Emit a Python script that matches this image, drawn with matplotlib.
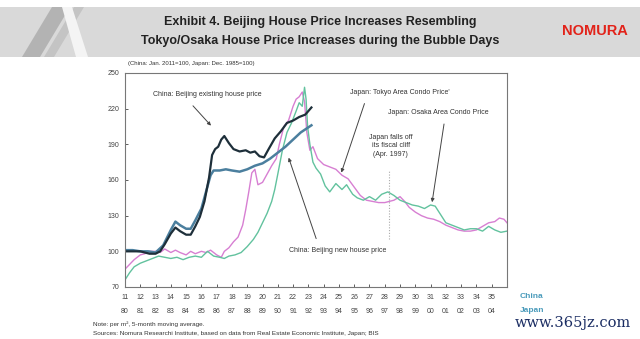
import matplotlib.pyplot as plt
from matplotlib.patches import Rectangle, Polygon

plt.rcParams['font.family'] = ['Liberation Sans', 'DejaVu Sans']

# x axis: China year 2011=11 ... , Japan year 1980 at the same position
china_years = list(range(11, 36))
japan_years = ["80", "81", "82", "83", "84", "85", "86", "87", "88", "89", "90", "91",
               "92", "93", "94", "95", "96", "97", "98", "99", "00", "01", "02", "03", "04"]
y_ticks = [70, 100, 130, 160, 190, 220, 250]

# China: Beijing existing house price
exist_x = [11.0, 11.5, 12.0, 12.3, 12.6, 13.0, 13.3, 13.6, 14.0, 14.3, 14.6, 15.0, 15.3,
           15.6, 15.9, 16.2, 16.5, 16.7, 16.9, 17.1, 17.3, 17.5, 17.8, 18.1, 18.5, 18.9,
           19.2, 19.5, 19.8, 20.1, 20.4, 20.8, 21.2, 21.6, 22.0, 22.4, 22.8, 23.2]
exist_y = [100, 100, 100, 99, 98, 98, 100, 106, 115, 120, 117, 114, 114,
           121, 129, 142, 162, 181, 186, 188, 194, 197, 191, 186, 184, 185,
           183, 184, 180, 179, 186, 195, 201, 208, 210, 213, 215, 221]

# China: Beijing new house price
new_x = [11.0, 11.5, 12.0, 12.5, 13.0, 13.5, 14.0, 14.3, 14.6, 15.0, 15.3, 15.6, 16.0,
         16.3, 16.6, 16.8, 17.2, 17.6, 18.0, 18.5, 19.0, 19.5, 20.0, 20.5, 21.0, 21.5,
         22.0, 22.5, 23.2]
new_y = [101, 101, 100, 100, 99, 105, 118, 125, 122, 119, 119, 126, 136,
         150, 164, 168, 168, 169, 168, 167, 169, 172, 174, 178, 183, 188,
         194, 200, 206]

# Japan: Tokyo area condo price
tokyo_x = [11.0, 11.3, 11.6, 12.0, 12.3, 12.6, 13.0, 13.3, 13.6, 14.0, 14.3, 14.6, 15.0,
           15.3, 15.6, 16.0, 16.3, 16.6, 17.0, 17.3, 17.5, 17.8, 18.1, 18.4, 18.7, 18.9,
           19.1, 19.3, 19.5, 19.7, 20.0, 20.3, 20.6, 20.9, 21.1, 21.4, 21.7, 22.0, 22.2,
           22.4, 22.6, 22.75, 22.9, 23.1, 23.3, 23.6, 24.0, 24.4, 24.8, 25.2, 25.6, 26.0,
           26.4, 26.8, 27.2, 27.6, 28.0, 28.3, 28.6, 29.0, 29.3, 29.6, 30.0, 30.4, 30.8,
           31.2, 31.6, 32.0, 32.4, 32.8, 33.2, 33.6, 34.0, 34.4, 34.8, 35.2, 35.5, 35.8, 36.0]
tokyo_y = [85, 89, 93, 97, 98, 100, 100, 99, 102, 99, 101, 99, 97,
           100, 98, 100, 99, 101, 97, 95, 100, 103, 108, 112, 122, 135,
           150, 166, 169, 156, 158, 165, 172, 178, 190, 205, 210, 222, 228,
           230, 234, 226, 200, 185, 188, 178, 173, 171, 169, 164, 161, 154,
           147, 143, 142, 141, 141, 142, 143, 146, 142, 137, 133, 130, 128,
           127, 125, 122, 120, 118, 117, 117, 118, 121, 124, 125, 128, 127, 124]

# Japan: Osaka area condo price
osaka_x = [11.0, 11.3, 11.6, 12.0, 12.4, 12.8, 13.2, 13.6, 14.0, 14.4, 14.8, 15.2, 15.6,
           16.0, 16.4, 16.8, 17.2, 17.5, 17.8, 18.2, 18.6, 19.0, 19.4, 19.7, 20.0, 20.3,
           20.6, 20.8, 21.0, 21.3, 21.6, 21.9, 22.2, 22.4, 22.6, 22.75, 22.85, 22.95, 23.1,
           23.3, 23.5, 23.8, 24.1, 24.4, 24.8, 25.2, 25.5, 25.9, 26.2, 26.6, 27.0, 27.4,
           27.8, 28.2, 28.6, 29.0, 29.4, 29.8, 30.2, 30.6, 31.0, 31.3, 31.6, 32.0, 32.4,
           32.8, 33.2, 33.6, 34.0, 34.4, 34.8, 35.2, 35.6, 36.0]
osaka_y = [76, 82, 87, 90, 92, 94, 96, 95, 94, 95, 93, 95, 96,
           95, 100, 96, 95, 94, 96, 97, 99, 104, 110, 116, 124, 132,
           142, 152, 165, 185, 200, 208, 218, 225, 222, 238, 228, 205, 190,
           175, 170, 165, 155, 150, 157, 152, 156, 148, 145, 143, 146, 143,
           148, 150, 147, 143, 141, 139, 138, 136, 139, 138, 132, 124, 122,
           120, 118, 119, 119, 117, 121, 118, 116, 117]

fig = plt.figure(figsize=(6.4, 3.39), dpi=100)

# header band with the grey stripes on the left
fig.patches.append(Rectangle((0, 1 - 57 / 339), 1, 50 / 339, transform=fig.transFigure,
                             facecolor='#d9d9d9', edgecolor='none', zorder=0))
def fpx(x, y):
    return (x / 640, 1 - y / 339)
fig.patches.append(Polygon([fpx(22, 57), fpx(40, 57), fpx(70, 7), fpx(52, 7)],
                           transform=fig.transFigure, facecolor='#b3b3b3', edgecolor='none'))
fig.patches.append(Polygon([fpx(44, 57), fpx(54, 57), fpx(84, 7), fpx(74, 7)],
                           transform=fig.transFigure, facecolor='#c4c4c4', edgecolor='none'))
fig.patches.append(Polygon([fpx(62, 7), fpx(72, 7), fpx(88, 57), fpx(76, 57)],
                           transform=fig.transFigure, facecolor='#f4f4f4', edgecolor='none'))
fig.text(320 / 640, 1 - 22 / 339, "Exhibit 4. Beijing House Price Increases Resembling",
         ha='center', va='center', fontsize=9, fontweight='bold', color='#222222')
fig.text(320 / 640, 1 - 41 / 339, "Tokyo/Osaka House Price Increases during the Bubble Days",
         ha='center', va='center', fontsize=9, fontweight='bold', color='#222222')
fig.text(595 / 640, 1 - 31 / 339, "NOMURA", ha='center', va='center', fontsize=10.5,
         fontweight='bold', color='#e2231a')

ax = fig.add_axes([125 / 640, 1 - 287 / 339, 382 / 640, 214 / 339])
ax.plot(tokyo_x, tokyo_y, color='#d77fd2', lw=1.0)
ax.plot(osaka_x, osaka_y, color='#62c29e', lw=1.0)
ax.plot(new_x, new_y, color='#4b7f9e', lw=1.8)
ax.plot(exist_x, exist_y, color='#1e2f3a', lw=1.6)

ax.set_xlim(11, 36)
ax.set_ylim(70, 250)
ax.set_yticks(y_ticks)
ax.set_xticks(china_years)
ax.set_xticklabels([str(v) for v in china_years])
ax.tick_params(direction='in', length=2.5, width=0.6, labelsize=5, colors='#444444', pad=4)
ax.tick_params(axis='x', pad=5)
for s in ax.spines.values():
    s.set_color('#777777')
    s.set_linewidth(0.8)
trans = ax.get_xaxis_transform()
for xv, lab in zip(china_years, japan_years):
    ax.text(xv, -0.113, lab, transform=trans, ha='center', va='center', fontsize=5,
            color='#444444', clip_on=False)

ax.axvline(28.25, ymin=(110 - 70) / 180, ymax=(168 - 70) / 180, color='#aaaaaa',
           lw=0.8, ls=(0, (1, 1.5)))

arrow = dict(arrowstyle='-|>', color='#444444', lw=0.7, mutation_scale=5)
fs = 5
ax.annotate("China: Beijing existing house price", xy=(16.75, 204), xytext=(16.4, 232),
            ha='center', va='center', fontsize=fs, color='#333333',
            arrowprops=dict(arrow, shrinkA=5, relpos=(0.3, 0)))
ax.annotate("China: Beijing new house price", xy=(21.65, 181), xytext=(24.9, 101),
            ha='center', va='center', fontsize=fs, color='#333333',
            arrowprops=dict(arrow, shrinkA=4, relpos=(0.31, 1)))
ax.annotate("Japan: Tokyo Area Condo Price'", xy=(25.1, 164), xytext=(29.0, 234),
            ha='center', va='center', fontsize=fs, color='#333333',
            arrowprops=dict(arrow, shrinkA=4, relpos=(0.17, 0)))
ax.annotate("Japan: Osaka Area Condo Price", xy=(31.07, 139), xytext=(31.5, 217),
            ha='center', va='center', fontsize=fs, color='#333333',
            arrowprops=dict(arrow, shrinkA=4, relpos=(0.57, 0)))
ax.text(28.4, 189, "Japan falls off\nits fiscal cliff\n(Apr. 1997)", ha='center', va='center',
        fontsize=fs, color='#333333', linespacing=1.3)

fig.text(128 / 640, 1 - 64 / 339, "(China: Jan. 2011=100, Japan: Dec. 1985=100)",
         ha='left', va='center', fontsize=4.3, color='#333333')
fig.text(520 / 640, 1 - 296 / 339, "China", ha='left', va='center', fontsize=6,
         fontweight='bold', color='#4a9bbb')
fig.text(520 / 640, 1 - 310 / 339, "Japan", ha='left', va='center', fontsize=6,
         fontweight='bold', color='#4a9bbb')
fig.text(93 / 640, 1 - 324 / 339, "Note: per m², 5-month moving average.",
         ha='left', va='center', fontsize=4.6, color='#333333')
fig.text(93 / 640, 1 - 334 / 339,
         "Sources: Nomura Researchi Institute, based on data from Real Estate Economic Institute, Japan; BIS",
         ha='left', va='center', fontsize=4.6, color='#333333')
fig.text(573 / 640, 1 - 323 / 339, "www.365jz.com", ha='center', va='center', fontsize=10.5,
         family='DejaVu Serif', color='#1b2d63')

fig.savefig('out.png', dpi=100)
